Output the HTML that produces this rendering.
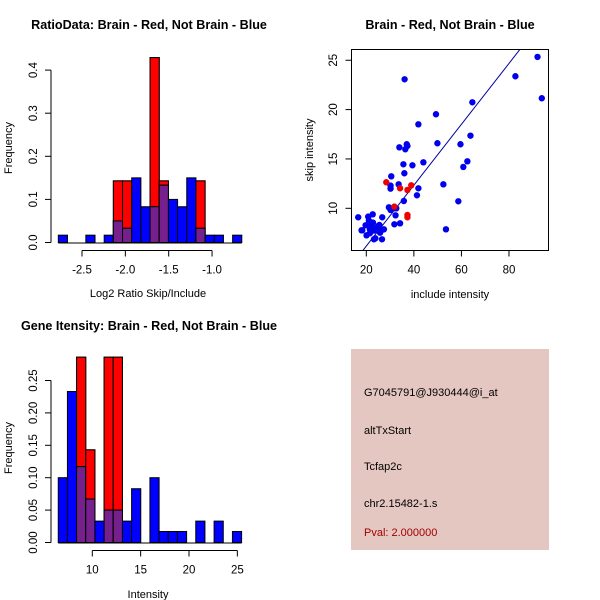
<!DOCTYPE html>
<html><head><meta charset="utf-8"><style>
html,body{margin:0;padding:0;background:#fff;}
svg{display:block;font-family:"Liberation Sans",sans-serif;}
.t{font-weight:bold;font-size:12.6px;}
.tick{font-size:11.5px;}
.lab{font-size:11px;}
</style></head><body>
<svg id="c" width="600" height="600" viewBox="0 0 600 600" xmlns="http://www.w3.org/2000/svg">
<text class="t" x="149" y="29" text-anchor="middle">RatioData: Brain - Red, Not Brain - Blue</text>
<text class="t" x="450" y="29" text-anchor="middle">Brain - Red, Not Brain - Blue</text>
<text class="t" x="149" y="330" text-anchor="middle">Gene Itensity: Brain - Red, Not Brain - Blue</text>
<text class="lab" x="148" y="297" text-anchor="middle">Log2 Ratio Skip/Include</text>
<text class="lab" x="12" y="148" text-anchor="middle" transform="rotate(-90 12 148)">Frequency</text>
<text class="lab" x="148" y="598" text-anchor="middle">Intensity</text>
<text class="lab" x="12" y="448" text-anchor="middle" transform="rotate(-90 12 448)">Frequency</text>
<text class="lab" x="450" y="298" text-anchor="middle">include intensity</text>
<text class="lab" x="313" y="150" text-anchor="middle" transform="rotate(-90 313 150)">skip intensity</text>
<g>
<rect x="351" y="349" width="198" height="201" fill="#e5c7c1"/>
<text class="lab" x="364" y="396">G7045791@J930444@i_at</text>
<text class="lab" x="364" y="434">altTxStart</text>
<text class="lab" x="364" y="470">Tcfap2c</text>
<text class="lab" x="364" y="507">chr2.15482-1.s</text>
<text class="lab" x="364" y="536" fill="#a00000">Pval: 2.000000</text>
</g>
</svg>
<script>
// Ratio histogram data
const ratioStart = -2.773;
const ratioBinWidth = 0.1058;
const ratioBlue = [0.017,0,0,0.017,0,0.017,0.05,0.033,0.15,0.083,0.083,0.133,0.1,0.083,0.15,0.033,0.017,0.017,0,0.017];
const ratioRed  = [0,0,0,0,0,0,0.143,0.143,0,0,0.429,0.143,0,0,0,0.143,0,0,0,0];
const ratioXTicks = [-2.5,-2.0,-1.5,-1.0];
const ratioXTickLabels = ["-2.5","-2.0","-1.5","-1.0"];
const ratioYTicks = [0,0.1,0.2,0.3,0.4];
const ratioYTickLabels = ["0.0","0.1","0.2","0.3","0.4"];
// Intensity histogram data
const intStart = 6.48;
const intBinWidth = 0.948;
const intBlue = [0.1,0.233,0.117,0.067,0.033,0.05,0.05,0.033,0.083,0,0.1,0.017,0.017,0.017,0,0.033,0,0.033,0,0.017];
const intRed  = [0,0,0.286,0.143,0,0.286,0.286,0,0,0,0,0,0,0,0,0,0,0,0,0];
const intXTicks = [10,15,20,25];
const intXTickLabels = ["10","15","20","25"];
const intYTicks = [0,0.05,0.1,0.15,0.2,0.25];
const intYTickLabels = ["0.00","0.05","0.10","0.15","0.20","0.25"];
// Scatter data
const blueX = [16.6,18.0,18.3,19.7,20.1,20.8,21.1,21.5,21.5,22.2,22.7,22.8,23.2,23.2,23.8,24.1,24.6,25.0,25.5,25.8,26.2,26.6,26.7,27.4,29.5,30.2,30.5,30.2,30.2,31.4,31.8,32.3,32.6,33.6,33.9,34.2,35.6,35.8,36.0,36.1,36.4,37.0,37.3,39.4,41.9,41.3,41.9,44.0,49.3,49.9,52.4,53.5,58.7,59.6,60.8,62.5,63.8,64.6,82.7,92.0,93.8];
const blueY = [9.09,7.77,7.77,8.28,7.26,9.16,8.75,7.47,7.87,8.31,9.39,8.55,7.74,6.86,6.96,7.97,7.80,8.21,8.31,7.53,7.74,6.86,9.09,7.87,10.10,9.83,13.24,12.30,11.99,10.00,8.38,9.29,10.00,12.43,16.18,8.48,14.46,10.74,13.55,23.07,15.98,16.49,16.32,14.36,12.03,11.32,18.51,14.66,19.53,16.59,12.43,7.87,10.71,16.49,14.19,14.76,17.36,20.74,23.38,25.34,21.15];
const redX = [28.4,31.8,34.2,37.3,38.9,37.3,37.3];
const redY = [12.64,10.17,12.03,11.86,12.33,9.32,9.09];
const fitSlope = 0.3085;
const fitIntercept = 0;
const scXTicks = [20,40,60,80];
const scYTicks = [10,15,20,25];

const NS = "http://www.w3.org/2000/svg";
const svg = document.getElementById('c');
function mk(tag, attrs, parent){
  const e = document.createElementNS(NS, tag);
  for (const k in attrs) e.setAttribute(k, attrs[k]);
  (parent||svg).appendChild(e);
  return e;
}
const PURPLE = "#76208e";

function hist(cfg){
  const g = mk('g', {});
  
  
  const X = v => cfg.x0 + (v - cfg.xr) * cfg.kx;
  const Y = f => cfg.base - f * cfg.ky;
  cfg.blue.forEach((b, i) => {
    const r = cfg.red[i];
    const xl = X(cfg.start + i*cfg.bw), xr = X(cfg.start + (i+1)*cfg.bw);
    if (r > 0) {
      const e = mk('rect', {x:xl, y:Y(r), width:xr-xl, height:Y(0)-Y(r), fill:'#ff0000', stroke:'#000', 'stroke-width':1}, g);
      
      
    }
    if (b > 0) {
      const e = mk('rect', {x:xl, y:Y(b), width:xr-xl, height:Y(0)-Y(b), fill:'#0000ff', stroke:'#000', 'stroke-width':1}, g);
      
      
    }
    const m = Math.min(r, b);
    if (m > 0) {
      const e = mk('rect', {x:xl, y:Y(m), width:xr-xl, height:Y(0)-Y(m), fill:PURPLE, stroke:'#000', 'stroke-width':1}, g);
      
      
    }
    if (r > b && b > 0) {
      mk('rect', {x:xl, y:Y(r), width:xr-xl, height:Y(b)-Y(r), fill:'#ff0000', stroke:'#000', 'stroke-width':1}, g);
      mk('rect', {x:xl, y:Y(m), width:xr-xl, height:Y(0)-Y(m), fill:PURPLE, stroke:'#000', 'stroke-width':1}, g);
    }
  });
  const x0 = X(cfg.start), x1 = X(cfg.start + cfg.blue.length*cfg.bw);
  mk('line', {x1:x0, x2:x1, y1:Y(0)+0.5, y2:Y(0)+0.5, stroke:'#000'}, g);
  const xa = mk('g', {}, g);
  
  
  const ay = cfg.axisY;
  mk('line', {x1:X(cfg.xt[0]), x2:X(cfg.xt[cfg.xt.length-1]), y1:ay, y2:ay, stroke:'#000'}, xa);
  cfg.xt.forEach((t, i) => {
    mk('line', {x1:X(t), x2:X(t), y1:ay, y2:ay+6, stroke:'#000'}, xa);
    const tx = mk('text', {x:X(t), y:ay+23, 'text-anchor':'middle', class:'tick'}, xa);
    tx.textContent = cfg.xl[i];
  });
  const ya = mk('g', {}, g);
  
  
  const ax = 51;
  mk('line', {x1:ax, x2:ax, y1:Y(cfg.yt[0]), y2:Y(cfg.yt[cfg.yt.length-1]), stroke:'#000'}, ya);
  cfg.yt.forEach((t, i) => {
    mk('line', {x1:ax-6, x2:ax, y1:Y(t), y2:Y(t), stroke:'#000'}, ya);
    const tx = mk('text', {x:37, y:Y(t), 'text-anchor':'middle', class:'tick', transform:`rotate(-90 37 ${Y(t)})`}, ya);
    tx.textContent = cfg.yl[i];
  });
}
hist({name:'ratio-histogram', start:ratioStart, bw:ratioBinWidth, blue:ratioBlue, red:ratioRed,
  x0:82, xr:-2.5, kx:86.7, base:242.5, ky:431, axisY:250.5,
  xt:ratioXTicks, xl:ratioXTickLabels, yt:ratioYTicks, yl:ratioYTickLabels});
hist({name:'intensity-histogram', start:intStart, bw:intBinWidth, blue:intBlue, red:intRed,
  x0:92.3, xr:10, kx:9.67, base:542.5, ky:648, axisY:550.5,
  xt:intXTicks, xl:intXTickLabels, yt:intYTicks, yl:intYTickLabels});

(function(){
  const g = mk('g', {});
  
  
  const L=351.5, R=548.5, T=49.5, B=250.5;
  const X = v => 366.3 + (v-20)*2.378;
  const Y = v => 208.3 - (v-10)*9.87;
  const cp = mk('clipPath', {id:'scclip'}, g);
  mk('rect', {x:L, y:T, width:R-L, height:B-T}, cp);
  const ln = mk('line', {x1:X(0), y1:Y(fitIntercept), x2:X(120), y2:Y(fitIntercept+fitSlope*120), stroke:'#0000a0', 'stroke-width':1, 'clip-path':'url(#scclip)'}, g);
  
  
  blueX.forEach((x, i) => {
    const c = mk('circle', {cx:X(x), cy:Y(blueY[i]), r:3.2, fill:'#0000ee'}, g);
    
    
  });
  redX.forEach((x, i) => {
    const c = mk('circle', {cx:X(x), cy:Y(redY[i]), r:3.2, fill:'#ee0000'}, g);
    
    
  });
  mk('rect', {x:L, y:T, width:R-L, height:B-T, fill:'none', stroke:'#000'}, g);
  const xa = mk('g', {}, g);
  
  
  scXTicks.forEach(t => {
    mk('line', {x1:X(t), x2:X(t), y1:B, y2:B+6, stroke:'#000'}, xa);
    const tx = mk('text', {x:X(t), y:B+23, 'text-anchor':'middle', class:'tick'}, xa);
    tx.textContent = String(t);
  });
  const ya = mk('g', {}, g);
  
  
  scYTicks.forEach(t => {
    mk('line', {x1:L-6, x2:L, y1:Y(t), y2:Y(t), stroke:'#000'}, ya);
    const tx = mk('text', {x:337, y:Y(t), 'text-anchor':'middle', class:'tick', transform:`rotate(-90 337 ${Y(t)})`}, ya);
    tx.textContent = String(t);
  });
})();
</script>
</body></html>
